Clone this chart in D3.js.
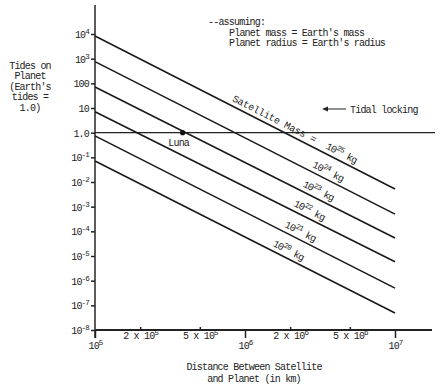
<!DOCTYPE html>
<html><head><meta charset="utf-8">
<script src="https://cdn.jsdelivr.net/npm/d3@7"></script>
<style>
body{margin:0;background:#fff;}
text{font-family:"Liberation Mono","DejaVu Sans Mono",monospace;fill:#222;}
</style></head>
<body><svg id="c" width="446" height="390"></svg>
<script>
// ---- data ----
const massExp = [25, 24, 23, 22, 21, 20];              // satellite mass 10^n kg
const distStart = 1e5, distEnd = 1e7;                   // km
const tideAtStart = [8300, 760, 71, 7.1, 0.74, 0.071];  // tides at 10^5 km
const tideAtEnd = [5.2e-3, 5.0e-4, 5.4e-5, 5.8e-6, 5.0e-7, 4.9e-8]; // tides at 10^7 km
const labelDist = [4.17e6, 3.4e6, 2.93e6, 2.55e6, 2.22e6, 1.85e6];  // where each mass label sits
const lunaDist = 3.84e5, lunaTide = 1.0;
const tidalLock = 1.0;
const yTicks = [1e4,1e3,100,10,1,1e-1,1e-2,1e-3,1e-4,1e-5,1e-6,1e-7,1e-8];
const yTickLabels = [["10","4"],["10","3"],["100",""],["10",""],["1.0",""],["10","-1"],["10","-2"],["10","-3"],["10","-4"],["10","-5"],["10","-6"],["10","-7"],["10","-8"]];
const xTicks = [1e5,2e5,5e5,1e6,2e6,5e6,1e7];
const xTickLabels = [["10","5"],["2 x 10","5"],["5 x 10","5"],["10","6"],["2 x 10","6"],["5 x 10","6"],["10","7"]];

const svg = d3.select("#c");
const x = d3.scaleLog().domain([1e5,1e7]).range([95,395]);
const y = d3.scaleLog().domain([1e-8,1e4]).range([330,34]);
const FS = 10, LS = -0.8;

function supText(sel, base, sup){
  sel.text(null);
  sel.append("tspan").text(base);
  if(sup) sel.append("tspan").attr("dy",-4).attr("font-size",7.5).text(sup);
}

// axis lines
svg.append("line").attr("x1",x(1e5)).attr("x2",432).attr("y1",y(1e-8)).attr("y2",y(1e-8))
  .attr("stroke","#222").attr("stroke-width",2);
svg.append("line").attr("x1",x(1e5)).attr("x2",x(1e5)).attr("y1",5).attr("y2",y(1e-8)+8)
  .attr("stroke","#333").attr("stroke-width",1.6);

// y axis
const ya = svg.append("g").attr("transform",`translate(${x(1e5)},0)`)
  .call(d3.axisLeft(y).tickValues(yTicks).tickSize(4).tickFormat(""));
ya.select(".domain").remove();
ya.selectAll(".tick line").attr("stroke","#222").attr("stroke-width",1.5);
ya.selectAll(".tick").each(function(d,i){
  const t = d3.select(this).append("text").attr("x",-6).attr("y",3.5)
    .attr("text-anchor","end").attr("font-size",FS).attr("letter-spacing",LS).attr("fill","#222");
  supText(t, yTickLabels[i][0], yTickLabels[i][1]);
});

// x axis
const xa = svg.append("g").attr("transform",`translate(0,${y(1e-8)})`)
  .call(d3.axisBottom(x).tickValues(xTicks).tickSize(0).tickFormat(""));
xa.select(".domain").remove();
xa.selectAll(".tick").each(function(d,i){
  const major = Math.abs(Math.log10(d)-Math.round(Math.log10(d)))<1e-9;
  const g = d3.select(this);
  g.select("line").attr("y1", major?0:-3).attr("y2", major?8:0).attr("stroke","#222").attr("stroke-width",1.5);
  const t = g.append("text").attr("y", major?19:9).attr("text-anchor","middle")
    .attr("font-size",FS).attr("letter-spacing",LS).attr("fill","#222");
  supText(t, xTickLabels[i][0], xTickLabels[i][1]);
});

// tidal locking line
svg.append("line").attr("x1",x(1e5)).attr("x2",435).attr("y1",y(tidalLock)).attr("y2",y(tidalLock))
  .attr("stroke","#222").attr("stroke-width",1.1);

// mass lines
const line = d3.line().x(d=>x(d[0])).y(d=>y(d[1]));
massExp.forEach((m,i)=>{
  const pts = [[distStart,tideAtStart[i]],[distEnd,tideAtEnd[i]]];
  svg.append("path").attr("d",line(pts)).attr("fill","none").attr("stroke","#1a1a1a").attr("stroke-width",1.6);
  // label along line
  const ang = Math.atan2(y(tideAtEnd[i])-y(tideAtStart[i]), x(distEnd)-x(distStart));
  const lx = x(labelDist[i]);
  const t = (Math.log10(labelDist[i])-5)/2;
  const ly = y(tideAtStart[i]) + t*(y(tideAtEnd[i])-y(tideAtStart[i]));
  const deg = ang*180/Math.PI;
  const g = svg.append("g").attr("transform",`translate(${lx},${ly}) rotate(${deg})`);
  const tx = g.append("text").attr("x",0).attr("y",-4.5).attr("text-anchor","middle")
    .attr("font-size",FS).attr("letter-spacing",LS);
  tx.append("tspan").text("10");
  tx.append("tspan").attr("dy",-4).attr("font-size",7.5).text(String(m));
  tx.append("tspan").attr("dy",4).text(" kg");
  if(i===0){
    const sd = 1.49e6;
    const st = (Math.log10(sd)-5)/2;
    const sx = x(sd), sy = y(tideAtStart[0]) + st*(y(tideAtEnd[0])-y(tideAtStart[0]));
    svg.append("g").attr("transform",`translate(${sx},${sy}) rotate(${deg})`)
      .append("text").attr("y",-4.5).attr("text-anchor","middle").attr("font-size",FS)
      .attr("letter-spacing",-0.2).text("Satellite Mass =");
  }
});

// Luna
svg.append("circle").attr("cx",x(lunaDist)).attr("cy",y(lunaTide)).attr("r",2.6).attr("fill","#111");
svg.append("text").attr("x",x(lunaDist)-4).attr("y",y(lunaTide)+13).attr("text-anchor","middle")
  .attr("font-size",FS).attr("letter-spacing",LS).text("Luna");

// tidal locking arrow
svg.append("line").attr("x1",346).attr("x2",325).attr("y1",109).attr("y2",109).attr("stroke","#222").attr("stroke-width",1);
svg.append("path").attr("d","M322,109 L328,106.5 L328,111.5 Z").attr("fill","#222");
svg.append("text").attr("x",350).attr("y",112.5).attr("font-size",FS).attr("letter-spacing",LS).text("Tidal locking");

// note
[["--assuming:",208,25],["Planet mass = Earth's mass",229,35.5],["Planet radius = Earth's radius",229,46]]
  .forEach(d=>svg.append("text").attr("x",d[1]).attr("y",d[2]).attr("font-size",FS).attr("letter-spacing",LS).text(d[0]));

// y title
["Tides on","Planet","(Earth's","tides =","1.0)"].forEach((s,i)=>
  svg.append("text").attr("x",30).attr("y",69+i*10.4).attr("text-anchor","middle")
    .attr("font-size",FS).attr("letter-spacing",LS).text(s));

// x title
["Distance Between Satellite","and Planet (in km)"].forEach((s,i)=>
  svg.append("text").attr("x",254).attr("y",370+i*12).attr("text-anchor","middle")
    .attr("font-size",FS).attr("letter-spacing",LS).text(s));
</script></body></html>
